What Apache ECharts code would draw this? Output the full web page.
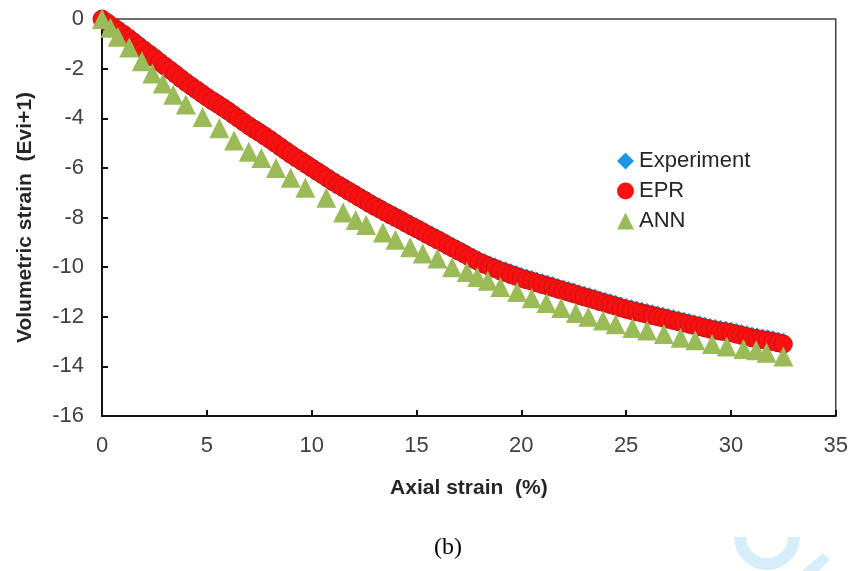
<!DOCTYPE html>
<html>
<head>
<meta charset="utf-8">
<script src="https://cdn.jsdelivr.net/npm/echarts@6/dist/echarts.min.js"></script>
<style>
html,body{margin:0;padding:0;background:#fff;}
#chart{width:851px;height:571px;}
</style>
</head>
<body>
<div id="chart"></div>
<script>
// Axial strain (%) sample positions for Experiment / EPR
const strainX = [0,0.25,0.5,0.75,1,1.25,1.5,1.75,2,2.25,2.5,2.75,3,3.25,3.5,3.75,4,4.25,4.5,4.75,5,5.25,5.5,5.75,6,6.25,6.5,6.75,7,7.25,7.5,7.75,8,8.25,8.5,8.75,9,9.25,9.5,9.75,10,10.25,10.5,10.75,11,11.25,11.5,11.75,12,12.25,12.5,12.75,13,13.25,13.5,13.75,14,14.25,14.5,14.75,15,15.25,15.5,15.75,16,16.25,16.5,16.75,17,17.25,17.5,17.75,18,18.25,18.5,18.75,19,19.25,19.5,19.75,20,20.25,20.5,20.75,21,21.25,21.5,21.75,22,22.25,22.5,22.75,23,23.25,23.5,23.75,24,24.25,24.5,24.75,25,25.25,25.5,25.75,26,26.25,26.5,26.75,27,27.25,27.5,27.75,28,28.25,28.5,28.75,29,29.25,29.5,29.75,30,30.25,30.5,30.75,31,31.25,31.5,31.75,32,32.25,32.5];

const experimentY = [0,-0.12,-0.22,-0.3,-0.4,-0.55,-0.7,-0.86,-1.03,-1.2,-1.35,-1.52,-1.68,-1.84,-2.0,-2.17,-2.33,-2.48,-2.64,-2.78,-2.93,-3.07,-3.2,-3.34,-3.48,-3.63,-3.78,-3.93,-4.08,-4.22,-4.35,-4.49,-4.63,-4.78,-4.93,-5.08,-5.23,-5.37,-5.5,-5.64,-5.78,-5.92,-6.05,-6.19,-6.33,-6.46,-6.58,-6.71,-6.83,-6.96,-7.08,-7.21,-7.33,-7.44,-7.56,-7.67,-7.78,-7.89,-8.01,-8.12,-8.23,-8.34,-8.46,-8.57,-8.68,-8.79,-8.91,-9.02,-9.13,-9.24,-9.36,-9.47,-9.58,-9.67,-9.76,-9.84,-9.93,-10.0,-10.08,-10.15,-10.23,-10.29,-10.35,-10.42,-10.48,-10.54,-10.6,-10.67,-10.73,-10.79,-10.85,-10.92,-10.98,-11.04,-11.1,-11.17,-11.23,-11.29,-11.35,-11.42,-11.48,-11.53,-11.58,-11.63,-11.68,-11.73,-11.78,-11.83,-11.88,-11.93,-11.98,-12.03,-12.08,-12.13,-12.18,-12.23,-12.28,-12.32,-12.36,-12.39,-12.43,-12.48,-12.53,-12.58,-12.63,-12.67,-12.71,-12.74,-12.78,-12.83,-12.88];

const eprY = [0,-0.15,-0.3,-0.45,-0.6,-0.76,-0.92,-1.09,-1.25,-1.41,-1.57,-1.74,-1.9,-2.06,-2.22,-2.39,-2.55,-2.7,-2.85,-3.0,-3.15,-3.29,-3.42,-3.56,-3.7,-3.85,-4.0,-4.15,-4.3,-4.44,-4.57,-4.71,-4.85,-5.0,-5.15,-5.3,-5.45,-5.59,-5.72,-5.86,-6.0,-6.14,-6.27,-6.41,-6.55,-6.68,-6.8,-6.93,-7.05,-7.18,-7.3,-7.43,-7.55,-7.66,-7.78,-7.89,-8.0,-8.11,-8.23,-8.34,-8.45,-8.56,-8.68,-8.79,-8.9,-9.01,-9.13,-9.24,-9.35,-9.46,-9.58,-9.69,-9.8,-9.89,-9.98,-10.06,-10.15,-10.22,-10.3,-10.37,-10.45,-10.51,-10.57,-10.64,-10.7,-10.76,-10.82,-10.89,-10.95,-11.01,-11.07,-11.14,-11.2,-11.26,-11.32,-11.39,-11.45,-11.51,-11.57,-11.64,-11.7,-11.75,-11.8,-11.85,-11.9,-11.95,-12.0,-12.05,-12.1,-12.15,-12.2,-12.25,-12.3,-12.35,-12.4,-12.45,-12.5,-12.54,-12.58,-12.61,-12.65,-12.7,-12.75,-12.8,-12.85,-12.89,-12.93,-12.96,-13.0,-13.05,-13.1];

// ANN predictions (own strain positions)
const annX = [0,0.4,0.75,1.3,1.9,2.4,2.9,3.4,4.0,4.8,5.6,6.3,7.0,7.6,8.3,9.0,9.7,10.7,11.5,12.1,12.6,13.4,14.0,14.7,15.3,16.0,16.7,17.4,17.9,18.4,19.0,19.8,20.5,21.2,21.9,22.6,23.2,23.9,24.5,25.3,26.0,26.8,27.6,28.3,29.1,29.8,30.6,31.2,31.7,32.5];
const annY = [0,-0.35,-0.72,-1.15,-1.7,-2.2,-2.6,-3.05,-3.45,-3.95,-4.4,-4.9,-5.35,-5.6,-6.0,-6.4,-6.8,-7.2,-7.8,-8.1,-8.3,-8.6,-8.9,-9.2,-9.45,-9.65,-10.0,-10.2,-10.4,-10.55,-10.8,-11.0,-11.25,-11.45,-11.65,-11.85,-12.0,-12.15,-12.3,-12.45,-12.55,-12.7,-12.85,-12.95,-13.1,-13.2,-13.3,-13.35,-13.45,-13.6];

const seriesNames = ['Experiment','EPR','ANN'];
const xTicks = {min:0, max:35, interval:5};
const yTicks = {min:-16, max:0, interval:2};

const zip = (xs, ys) => xs.map((x, i) => [x, ys[i]]);

const chart = echarts.init(document.getElementById('chart'), null, {renderer:'canvas'});
const labelFont = 'Liberation Sans, Arial, sans-serif';
chart.setOption({
  animation: false,
  backgroundColor: '#ffffff',
  grid: {left:102, right:14, top:19, bottom:155, show:true, borderColor:'#404040', borderWidth:1.5, backgroundColor:'transparent'},
  xAxis: {
    type:'value', min:xTicks.min, max:xTicks.max, interval:xTicks.interval,
    name:'Axial strain  (%)', nameLocation:'middle', nameGap:62,
    nameTextStyle:{fontFamily:labelFont, fontWeight:'bold', fontSize:21, color:'#262626'},
    axisLine:{show:true, onZero:false, lineStyle:{color:'#111', width:2}},
    axisTick:{show:true, inside:true, length:6, lineStyle:{color:'#111', width:2}},
    axisLabel:{fontFamily:labelFont, fontSize:22, color:'#404040', margin:19},
    splitLine:{show:false}
  },
  yAxis: {
    type:'value', min:yTicks.min, max:yTicks.max, interval:yTicks.interval,
    name:'Volumetric strain  (Evi+1)', nameLocation:'middle', nameGap:66, nameRotate:90,
    nameTextStyle:{fontFamily:labelFont, fontWeight:'bold', fontSize:21, color:'#262626'},
    axisLine:{show:true, onZero:false, lineStyle:{color:'#111', width:2}},
    axisTick:{show:true, inside:true, length:6, lineStyle:{color:'#111', width:2}},
    axisLabel:{fontFamily:labelFont, fontSize:22, color:'#404040', margin:18},
    splitLine:{show:false}
  },
  legend: {
    orient:'vertical', left:612, top:145, itemWidth:17, itemHeight:17, itemGap:8, itemStyle:{borderWidth:0},
    data:[
      {name:seriesNames[0], icon:'diamond'},
      {name:seriesNames[1], icon:'circle'},
      {name:seriesNames[2], icon:'triangle'}
    ],
    textStyle:{fontFamily:labelFont, fontSize:22, color:'#262626', lineHeight:18, padding:[0,0,0,0]}
  },
  series: [
    {name:seriesNames[0], type:'scatter', data:zip(strainX, experimentY), symbol:'diamond', symbolSize:11, clip:false,
     itemStyle:{color:'#1E96E6', borderColor:'#1A5FA0', borderWidth:0.5, opacity:1}},
    {name:seriesNames[1], type:'scatter', data:zip(strainX, eprY), symbol:'circle', symbolSize:18, clip:false,
     itemStyle:{color:'#FF1010', borderColor:'#C01515', borderWidth:1, opacity:1}},
    {name:seriesNames[2], type:'scatter', data:zip(annX, annY), symbol:'triangle', symbolSize:20, clip:false,
     itemStyle:{color:'#9BBB59', opacity:1}}
  ],
  graphic: [
    {type:'text', x:448, y:548, style:{text:'(b)', font:'24px "Liberation Serif", "Times New Roman", serif', fill:'#000', textAlign:'center', textVerticalAlign:'middle'}, z:10},
    {type:'sector', shape:{cx:767, cy:537, r0:21, r:33, startAngle:0, endAngle:Math.PI}, style:{fill:'#D6EEFA'}, silent:true},
    {type:'polygon', shape:{points:[[802,571],[818,571],[830,560],[823,553]]}, style:{fill:'#D6EEFA'}, silent:true}
  ]
});
</script>
</body>
</html>
